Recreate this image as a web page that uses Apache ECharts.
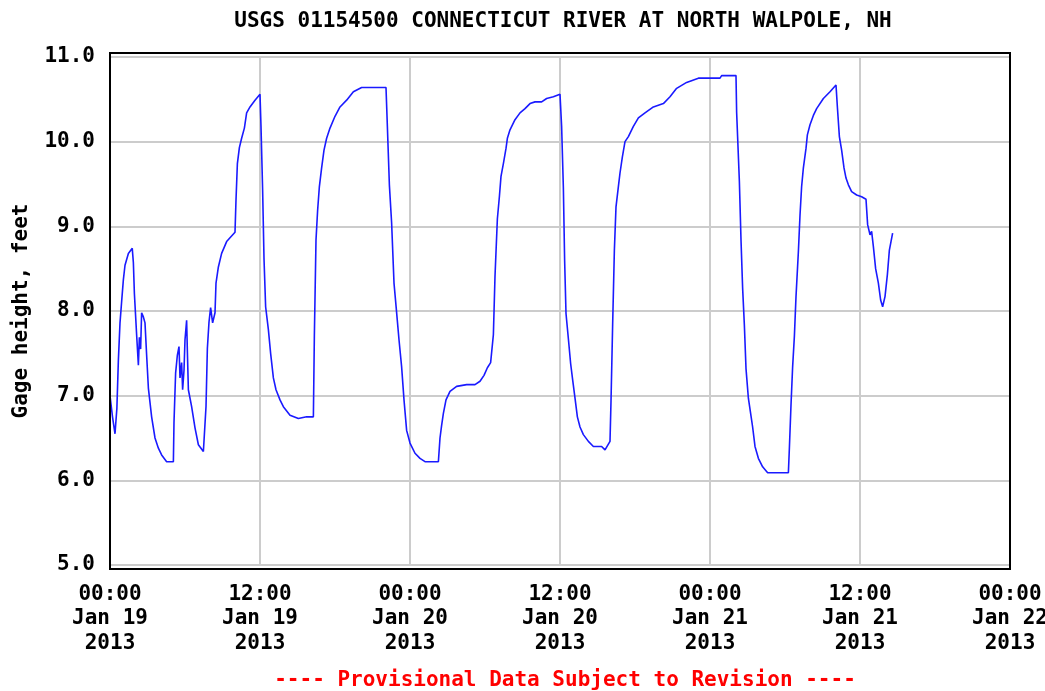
<!DOCTYPE html>
<html>
<head>
<meta charset="utf-8">
<script src="https://cdn.jsdelivr.net/npm/echarts@6/dist/echarts.min.js"></script>
<style>
  html, body { margin: 0; padding: 0; background: #fff; }
  #chart { width: 1045px; height: 691px; }
</style>
</head>
<body>
<div id="chart"></div>
<script>
// hours since 00:00 Jan 19 2013, gage height in feet
var hours = [
  0.0, 0.2, 0.4, 0.55, 0.67, 0.8, 0.93, 1.07, 1.2, 1.47, 1.78, 1.87, 1.95, 2.13, 2.27, 2.35, 2.45, 2.53, 2.67, 2.8,
  2.93, 3.07, 3.33, 3.6, 3.87, 4.13, 4.53, 5.07, 5.12, 5.25, 5.39, 5.52, 5.6, 5.73, 5.81, 5.92, 6.0, 6.13, 6.19, 6.27,
  6.53, 6.8, 7.07, 7.47, 7.6, 7.68, 7.79, 7.92, 8.05, 8.21, 8.4, 8.48, 8.67, 8.93, 9.33, 10.0, 10.08, 10.19, 10.35, 10.53,
  10.75, 10.93, 11.2, 11.6, 12.0, 12.08, 12.21, 12.32, 12.45, 12.67, 12.85, 13.07, 13.28, 13.6, 13.87, 14.4, 15.07, 15.73, 16.27, 16.35,
  16.48, 16.61, 16.75, 16.93, 17.12, 17.33, 17.6, 18.0, 18.4, 18.93, 19.47, 20.13, 22.08, 22.19, 22.35, 22.53, 22.72, 22.93, 23.12, 23.33,
  23.52, 23.73, 24.0, 24.4, 24.8, 25.2, 26.27, 26.4, 26.53, 26.67, 26.88, 27.2, 27.73, 28.53, 29.2, 29.6, 29.92, 30.19, 30.45, 30.67,
  30.8, 30.99, 31.15, 31.28, 31.47, 31.68, 31.79, 32.0, 32.4, 32.8, 33.2, 33.6, 34.0, 34.53, 34.93, 35.47, 36.0, 36.13, 36.27, 36.37,
  36.48, 36.69, 36.85, 37.01, 37.2, 37.39, 37.6, 37.87, 38.27, 38.67, 39.33, 39.6, 40.0, 40.08, 40.21, 40.35, 40.48, 40.67, 40.8, 40.99,
  41.2, 41.47, 41.87, 42.27, 42.8, 43.47, 44.27, 44.8, 45.33, 46.13, 47.07, 48.8, 48.93, 50.08, 50.13, 50.35, 50.48, 50.61, 50.75, 50.88,
  51.07, 51.25, 51.41, 51.6, 51.87, 52.21, 52.61, 54.27, 54.35, 54.48, 54.61, 54.75, 54.88, 55.07, 55.2, 55.33, 55.47, 55.68, 55.79, 56.0,
  56.27, 56.53, 57.07, 57.6, 58.08, 58.19, 58.35, 58.53, 58.72, 58.88, 59.07, 59.33, 59.73, 60.13, 60.48, 60.61, 60.8, 60.93, 61.07, 61.25,
  61.47, 61.65, 61.81, 62.0, 62.19, 62.35, 62.61
];
var gage = [
  7.00, 6.75, 6.55, 6.85, 7.42, 7.86, 8.11, 8.37, 8.54, 8.68, 8.74, 8.57, 8.21, 7.72, 7.36, 7.69, 7.55, 7.98, 7.93, 7.86,
  7.48, 7.09, 6.75, 6.50, 6.38, 6.30, 6.22, 6.22, 6.69, 7.27, 7.48, 7.58, 7.21, 7.39, 7.07, 7.30, 7.66, 7.89, 7.52, 7.07,
  6.87, 6.62, 6.42, 6.34, 6.32, 6.87, 7.56, 7.87, 8.04, 7.86, 7.98, 8.33, 8.52, 8.68, 8.82, 8.93, 9.31, 9.74, 9.93, 10.04,
  10.16, 10.34, 10.41, 10.49, 10.56, 10.18, 9.43, 8.62, 8.05, 7.78, 7.50, 7.21, 7.07, 6.95, 6.87, 6.77, 6.73, 6.75, 6.75, 7.72,
  8.84, 9.19, 9.47, 9.69, 9.90, 10.04, 10.16, 10.30, 10.41, 10.49, 10.59, 10.64, 10.64, 10.18, 9.49, 9.04, 8.33, 7.98, 7.66, 7.34,
  6.95, 6.59, 6.44, 6.32, 6.26, 6.22, 6.22, 6.50, 6.65, 6.79, 6.95, 7.05, 7.11, 7.13, 7.13, 7.17, 7.24, 7.33, 7.39, 7.72,
  8.41, 9.09, 9.35, 9.59, 9.74, 9.92, 10.04, 10.14, 10.26, 10.34, 10.39, 10.45, 10.47, 10.47, 10.51, 10.53, 10.56, 10.18, 9.45, 8.60,
  7.97, 7.64, 7.38, 7.19, 6.97, 6.75, 6.63, 6.54, 6.46, 6.40, 6.40, 6.36, 6.46, 6.93, 7.83, 8.72, 9.23, 9.47, 9.63, 9.82,
  10.00, 10.06, 10.18, 10.28, 10.34, 10.41, 10.45, 10.53, 10.63, 10.70, 10.75, 10.75, 10.78, 10.78, 10.35, 9.53, 8.84, 8.27, 7.83, 7.32,
  6.97, 6.79, 6.63, 6.40, 6.26, 6.16, 6.09, 6.09, 6.38, 6.89, 7.34, 7.70, 8.17, 8.70, 9.13, 9.47, 9.69, 9.92, 10.08, 10.20,
  10.31, 10.39, 10.51, 10.59, 10.67, 10.41, 10.06, 9.90, 9.69, 9.57, 9.49, 9.41, 9.37, 9.35, 9.32, 9.02, 8.90, 8.94, 8.76, 8.50,
  8.33, 8.13, 8.05, 8.17, 8.43, 8.72, 8.92
];
var tickLabels = {
  0: '00:00\nJan 19\n2013', 12: '12:00\nJan 19\n2013',
  24: '00:00\nJan 20\n2013', 36: '12:00\nJan 20\n2013',
  48: '00:00\nJan 21\n2013', 60: '12:00\nJan 21\n2013',
  72: '00:00\nJan 22\n2013'
};

var FONT = 'DejaVu Sans Mono';
var chart = echarts.init(document.getElementById('chart'));

var seriesData = hours.map(function (h, i) { return [h, gage[i]]; });

chart.setOption({
  animation: false,
  backgroundColor: '#fff',
  title: [{
    text: 'USGS 01154500 CONNECTICUT RIVER AT NORTH WALPOLE, NH',
    left: 558, top: 6, textAlign: 'center',
    textStyle: { fontFamily: FONT, fontWeight: 'bold', fontSize: 21, color: '#000' }
  }, {
    text: '---- Provisional Data Subject to Revision ----',
    left: 560, top: 665, textAlign: 'center',
    textStyle: { fontFamily: FONT, fontWeight: 'bold', fontSize: 21, color: '#ff0000' }
  }],
  grid: { left: 110, right: 35, top: 57, bottom: 126, containLabel: false, outerBoundsMode: 'none' },
  xAxis: {
    type: 'value', min: 0, max: 72, interval: 12,
    axisLine: { show: false }, axisTick: { show: false },
    splitLine: { show: true, lineStyle: { color: '#cccccc', width: 2 } },
    axisLabel: {
      margin: 17, lineHeight: 24.5, color: '#000',
      fontFamily: FONT, fontWeight: 'bold', fontSize: 21,
      showMinLabel: true, showMaxLabel: true, hideOverlap: false,
      formatter: function (v) { return tickLabels[v] || ''; }
    }
  },
  yAxis: {
    type: 'value', min: 5, max: 11, interval: 1,
    name: 'Gage height, feet', nameLocation: 'middle', nameGap: 78, nameRotate: 90,
    nameTextStyle: { fontFamily: FONT, fontWeight: 'bold', fontSize: 21, color: '#000' },
    axisLine: { show: false }, axisTick: { show: false },
    splitLine: { show: true, lineStyle: { color: '#cccccc', width: 2 } },
    axisLabel: {
      margin: 15, color: '#000',
      fontFamily: FONT, fontWeight: 'bold', fontSize: 21,
      formatter: function (v) { return v.toFixed(1); }
    }
  },
  graphic: [{
    type: 'rect', silent: true, z: 100,
    shape: { x: 110, y: 53, width: 900, height: 516 },
    style: { fill: null, stroke: '#000', lineWidth: 2 }
  }],
  series: [{
    type: 'line',
    data: seriesData,
    showSymbol: false,
    lineStyle: { color: '#1a1aff', width: 1.6 }
  }]
});
</script>
</body>
</html>
